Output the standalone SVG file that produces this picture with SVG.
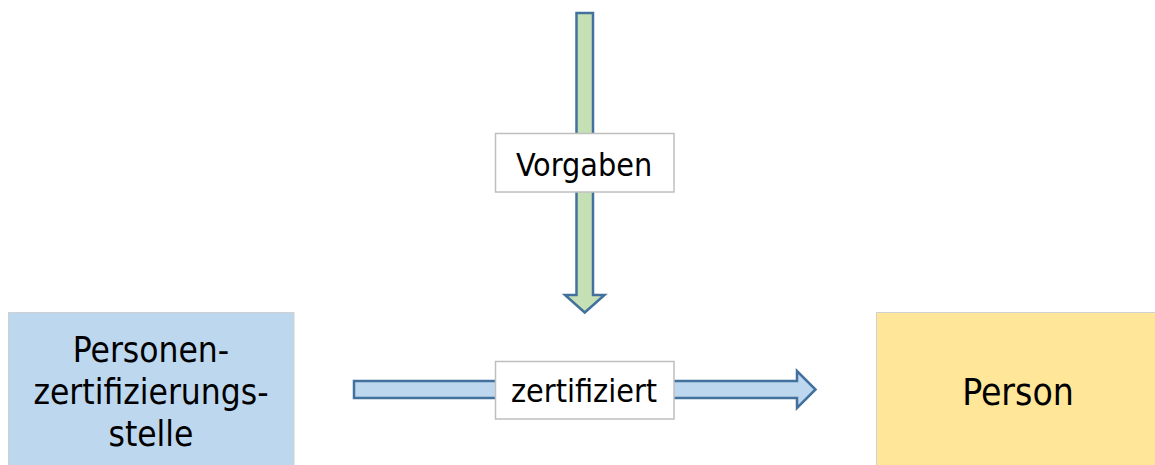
<svg xmlns="http://www.w3.org/2000/svg" width="1155" height="465" viewBox="0 0 1155 465">
  <style>
    .node { stroke: #d0d0d0; stroke-width: 1; }
    .label-box { fill: #ffffff; stroke: #bfbfbf; stroke-width: 1.5; }
    .arrow { stroke: #41719c; stroke-width: 2.5; stroke-linejoin: miter; }
    text { font-family: "DejaVu Sans Condensed", "DejaVu Sans", sans-serif; fill: #000000; text-anchor: middle; }
  </style>
  <rect width="1155" height="465" fill="#ffffff"/>

  <g id="connectors">
    <!-- requirements flowing down -->
    <path class="arrow" fill="#c5e0b4" d="M576.5,13 H593 V295 H604.5 L584.75,312.5 L565,295 H576.5 Z"/>
    <g id="label-vorgaben">
      <rect class="label-box" x="495.5" y="133.5" width="178.5" height="58.5"/>
      <text x="584" y="176" font-size="32">Vorgaben</text>
    </g>
    <!-- certification flow -->
    <path class="arrow" fill="#bdd7ee" d="M354,381 H797 V371 L815.5,389.5 L797,408 V398 H354 Z"/>
    <g id="label-zertifiziert">
      <rect class="label-box" x="495.5" y="361.5" width="178.5" height="57.5"/>
      <text x="584" y="402" font-size="32">zertifiziert</text>
    </g>
  </g>

  <g id="node-stelle">
    <rect class="node" x="8.5" y="312.5" width="285.5" height="160" fill="#bdd7ee"/>
    <text x="151" y="361.5" font-size="35">Personen-</text>
    <text x="151" y="403.5" font-size="35">zertifizierungs-</text>
    <text x="151" y="445.5" font-size="35">stelle</text>
  </g>

  <g id="node-person">
    <rect class="node" x="876.5" y="312.5" width="285" height="160" fill="#ffe699"/>
    <text x="1018" y="405" font-size="37">Person</text>
  </g>
</svg>
